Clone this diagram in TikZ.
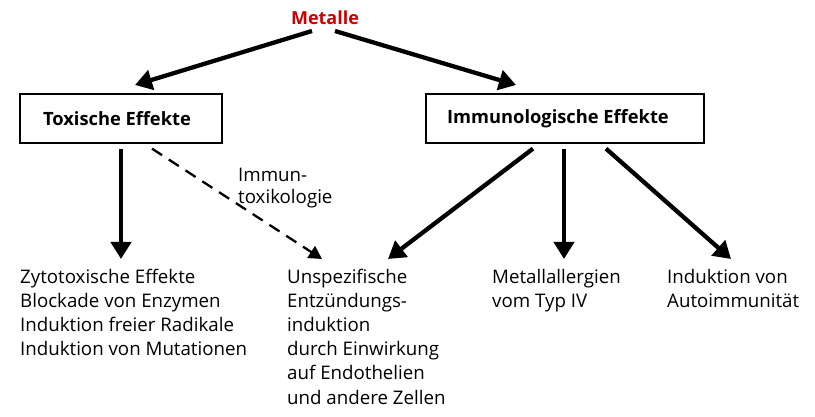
\documentclass[tikz,border=0pt]{standalone}
\usepackage{fontspec}
\setmainfont{Open Sans}
\usetikzlibrary{arrows.meta}
\definecolor{metred}{RGB}{204,0,0}
\begin{document}
\begin{tikzpicture}[x=1pt,y=1pt,
  box/.style={draw,line width=1.3pt,minimum width=#1,minimum height=49pt,inner sep=0pt,font=\fontsize{18.3}{20}\selectfont\bfseries},
  txt/.style={anchor=north west,inner sep=0pt,align=left,font=\fontsize{18.7}{24.1}\selectfont},
  bigarrow/.style={line width=4.3pt,-{Triangle[length=17pt,width=20pt]}},
  dasharrow/.style={line width=2.3pt,dash pattern=on 12pt off 8pt,-{Triangle[length=13pt,width=14pt]}}]
\useasboundingbox (0,0) rectangle (815,417);
\node[font=\fontsize{18}{20}\selectfont\bfseries,text=metred] (metalle) at (325,399) {Metalle};
\node[box=202pt] (tox) at (121,298.5) {Toxische Effekte\hspace*{8pt}};
\node[box=278pt] (imm) at (565,298.5) {Immunologische Effekte\hspace*{14pt}};
\node[txt] (zyto) at (20,148) {Zytotoxische Effekte\\Blockade von Enzymen\\Induktion freier Radikale\\Induktion von Mutationen};
\node[txt] (unsp) at (287,148) {Unspezifische\\Entzündungs-\\induktion\\durch Einwirkung\\auf Endothelien\\und andere Zellen};
\node[txt] (allerg) at (492,148) {Metallallergien\\vom Typ IV};
\node[txt] (auto) at (667,148) {Induktion von\\Autoimmunität};
\node[txt,font=\fontsize{18.7}{22.4}\selectfont] (immtox) at (238,249) {Immun-\\toxikologie};
\coordinate (m1) at (312,386);
\coordinate (m2) at (335,386);
\coordinate (t1) at (135,332);
\coordinate (t2) at (516,332);
\coordinate (a1) at (121,158);
\coordinate (a2) at (322,158);
\coordinate (a3) at (388,158);
\coordinate (a4) at (564,158);
\coordinate (a5) at (731,158);
\draw[bigarrow] (m1) -- (t1);
\draw[bigarrow] (m2) -- (t2);
\draw[bigarrow] ([yshift=-5pt]tox.south) -- (a1);
\draw[dasharrow] ([xshift=31pt,yshift=-5pt]tox.south) -- (a2);
\draw[bigarrow] ([xshift=-32pt,yshift=-5pt]imm.south) -- (a3);
\draw[bigarrow] ([xshift=-1pt,yshift=-5pt]imm.south) -- (a4);
\draw[bigarrow] ([xshift=41pt,yshift=-5pt]imm.south) -- (a5);
\end{tikzpicture}
\end{document}
